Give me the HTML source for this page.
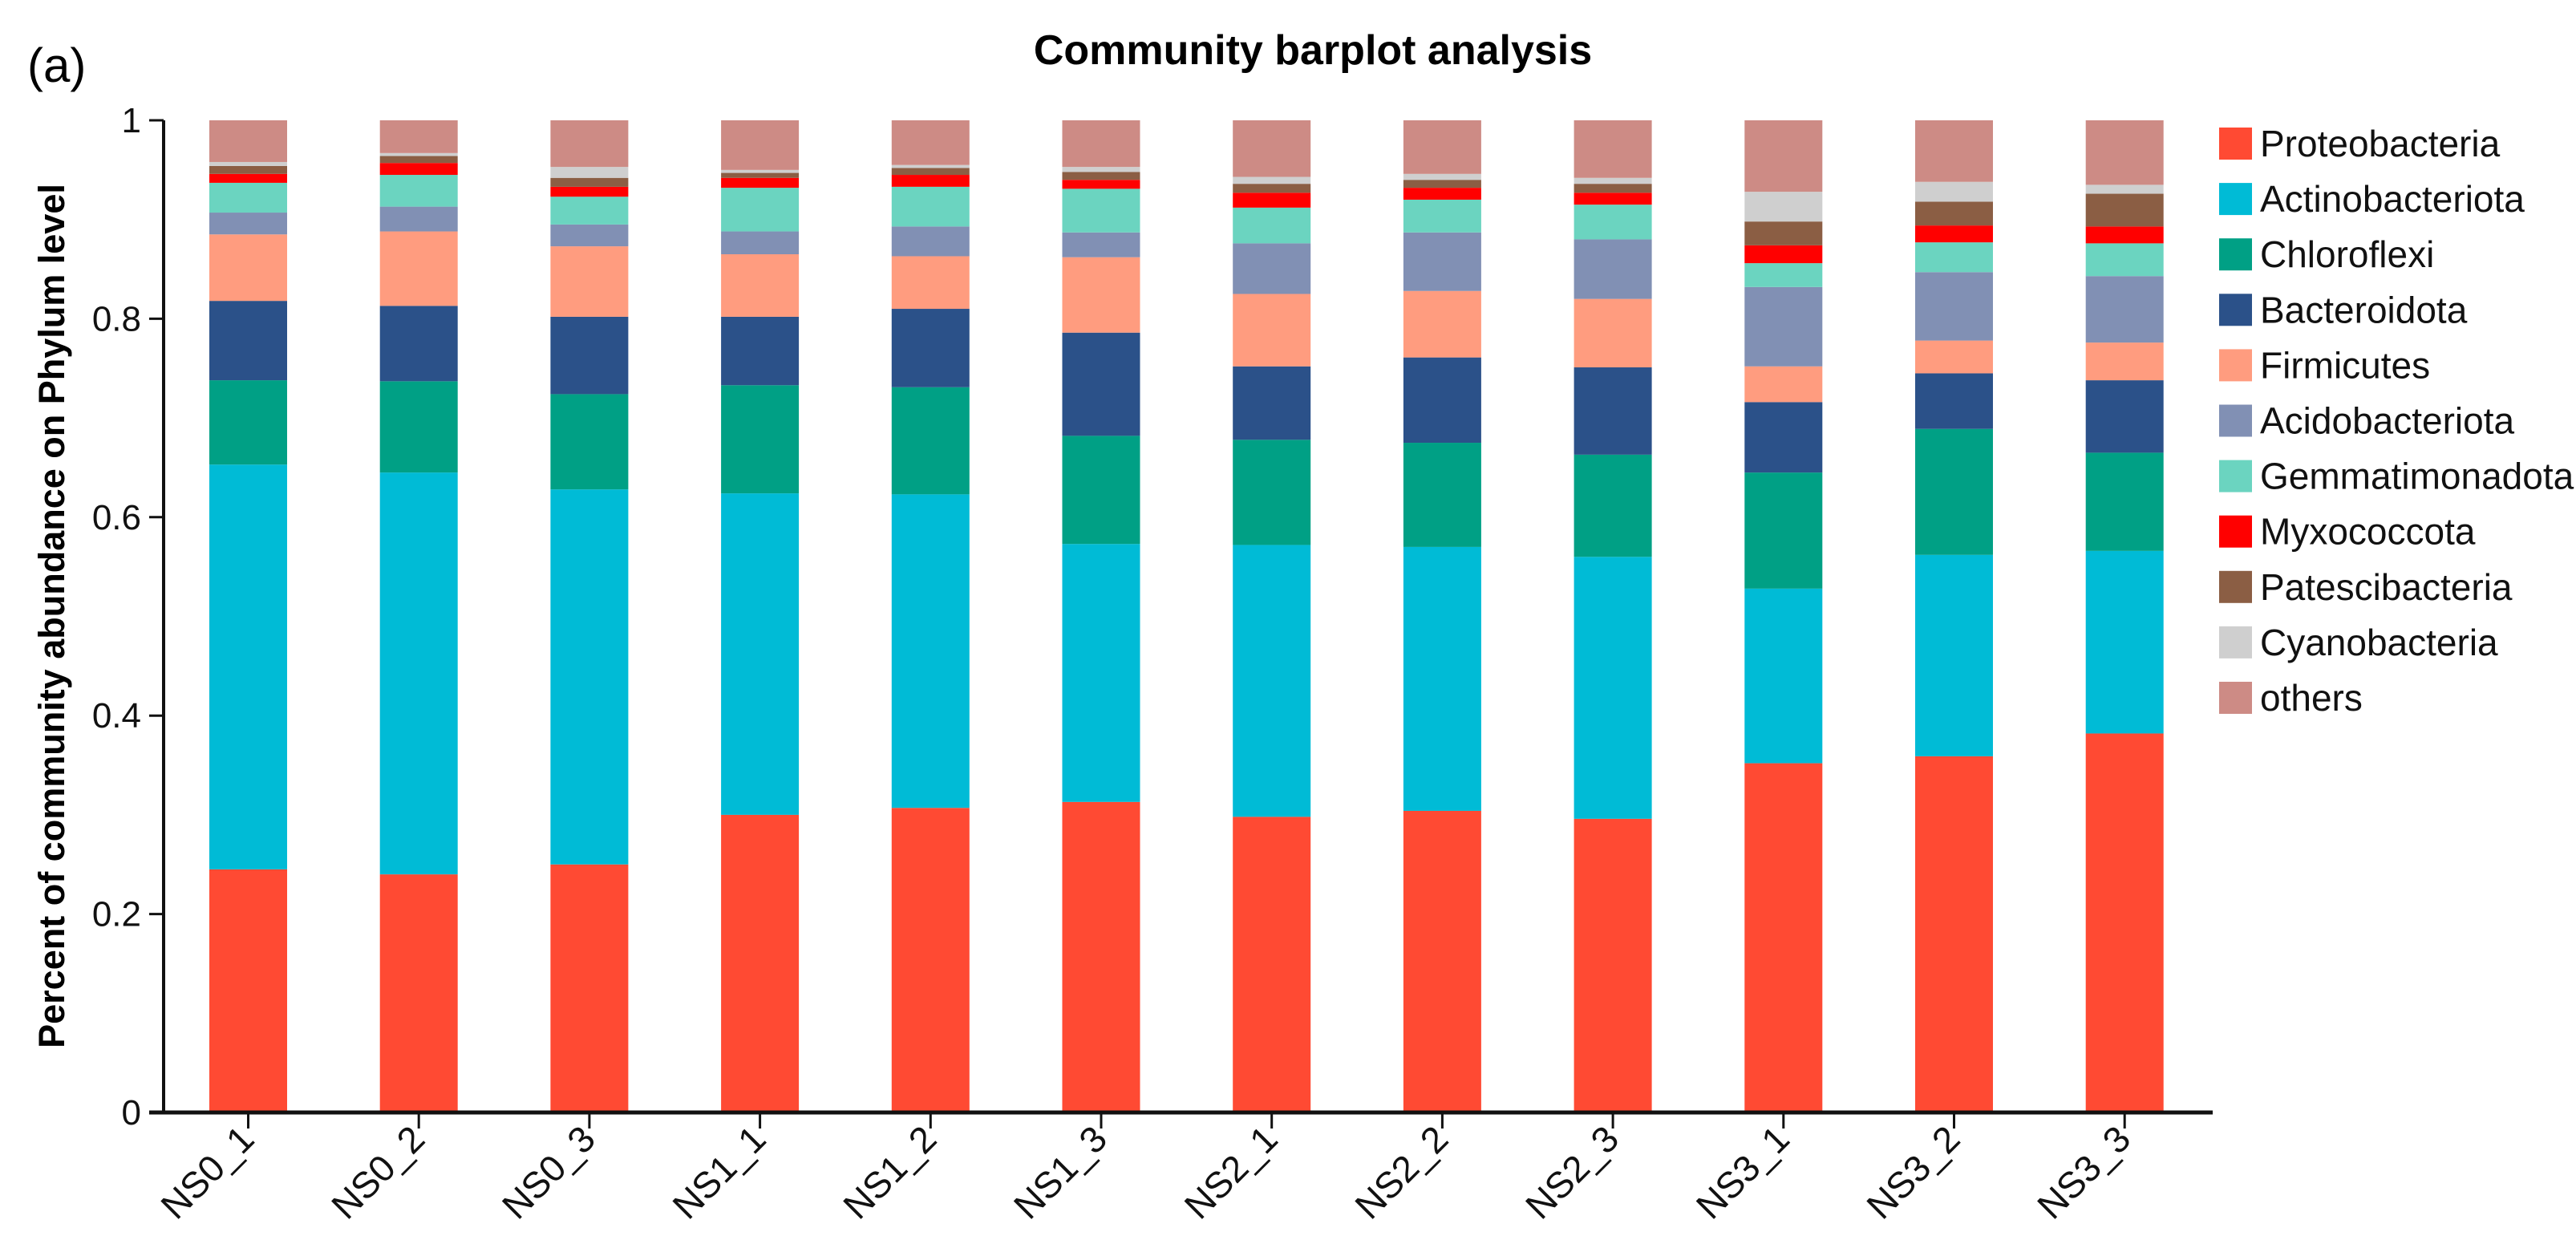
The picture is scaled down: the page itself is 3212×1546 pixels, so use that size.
<!DOCTYPE html>
<html><head><meta charset="utf-8"><style>
html,body{margin:0;padding:0;background:#fff;}
svg{display:block;font-family:"Liberation Sans",Arial,sans-serif;}
</style></head><body>
<svg id="chart" width="3212" height="1546" viewBox="0 0 3212 1546" xmlns="http://www.w3.org/2000/svg">
<text x="1637" y="80" font-size="52" font-weight="bold" text-anchor="middle">Community barplot analysis</text>
<text x="34" y="102" font-size="60">(a)</text>
<text transform="translate(80,768) rotate(-90)" font-size="45" font-weight="bold" text-anchor="middle">Percent of community abundance on Phylum level</text>
<g id="bars"></g>
<g id="axes"></g>
<g id="legend"></g>
</svg>
<script>
const categories = ["NS0_1","NS0_2","NS0_3","NS1_1","NS1_2","NS1_3","NS2_1","NS2_2","NS2_3","NS3_1","NS3_2","NS3_3"];
const seriesNames = ["Proteobacteria","Actinobacteriota","Chloroflexi","Bacteroidota","Firmicutes","Acidobacteriota","Gemmatimonadota","Myxococcota","Patescibacteria","Cyanobacteria","others"];
const seriesColors = ["#FF4A33","#00BBD6","#00A085","#2B5189","#FF9C7F","#8190B4","#6BD4C0","#FF0000","#8B5E44","#CFCFCF","#CD8B85"];
const proteobacteria   = [0.245,0.240,0.250,0.300,0.307,0.313,0.298,0.304,0.296,0.352,0.359,0.382];
const actinobacteriota = [0.408,0.405,0.378,0.324,0.316,0.260,0.274,0.266,0.264,0.176,0.203,0.184];
const chloroflexi      = [0.085,0.092,0.096,0.109,0.108,0.109,0.106,0.105,0.103,0.117,0.127,0.099];
const bacteroidota     = [0.080,0.076,0.078,0.069,0.079,0.104,0.074,0.086,0.088,0.071,0.056,0.073];
const firmicutes       = [0.067,0.075,0.071,0.063,0.053,0.076,0.073,0.067,0.069,0.036,0.033,0.038];
const acidobacteriota  = [0.022,0.025,0.022,0.023,0.030,0.025,0.051,0.059,0.060,0.080,0.069,0.067];
const gemmatimonadota  = [0.030,0.032,0.028,0.044,0.040,0.044,0.036,0.033,0.035,0.024,0.030,0.033];
const myxococcota      = [0.009,0.012,0.010,0.010,0.012,0.009,0.015,0.012,0.012,0.018,0.017,0.017];
const patescibacteria  = [0.008,0.007,0.009,0.005,0.007,0.008,0.009,0.008,0.009,0.024,0.024,0.033];
const cyanobacteria    = [0.004,0.003,0.011,0.003,0.003,0.005,0.007,0.006,0.006,0.030,0.020,0.009];
const others           = [0.042,0.033,0.047,0.050,0.045,0.047,0.057,0.054,0.058,0.072,0.062,0.065];
const yTickValues = [0,0.2,0.4,0.6,0.8,1];
const yTickLabels = ["0","0.2","0.4","0.6","0.8","1"];

const seriesValues = [proteobacteria,actinobacteriota,chloroflexi,bacteroidota,firmicutes,acidobacteriota,gemmatimonadota,myxococcota,patescibacteria,cyanobacteria,others];
const NS = "http://www.w3.org/2000/svg";
const X0 = 309.5, STEP = 212.7, BW = 97;
const Y0 = 1387, YSCALE = 1237;
function xScale(i){ return X0 + i*STEP; }
function yScale(v){ return Y0 - v*YSCALE; }
function mk(tag, attrs, parent){ const e=document.createElementNS(NS,tag); for(const k in attrs) e.setAttribute(k,attrs[k]); parent.appendChild(e); return e; }

const gb = document.getElementById('bars');
categories.forEach((c,i)=>{
  let cum = 0;
  seriesValues.forEach((arr,s)=>{
    const v = arr[i];
    const r = mk('rect',{x:xScale(i)-BW/2, y:yScale(cum+v), width:BW, height:yScale(cum)-yScale(cum+v), fill:seriesColors[s]}, gb);
    
    
    cum += v;
  });
});

const ga = document.getElementById('axes');
const yl = mk('line',{x1:204,y1:yScale(1),x2:204,y2:Y0,stroke:'#111','stroke-width':4},ga);


const xl = mk('line',{x1:186,y1:Y0,x2:2759,y2:Y0,stroke:'#111','stroke-width':5},ga);


yTickValues.forEach((v,k)=>{
  const t = mk('line',{x1:186,y1:yScale(v),x2:204,y2:yScale(v),stroke:'#111','stroke-width':3},ga);
  
  
  const tx = mk('text',{x:176,y:yScale(v)+15,'font-size':44,'text-anchor':'end',fill:'#111'},ga);
  tx.textContent = yTickLabels[k];
  
  
});
categories.forEach((c,i)=>{
  const t = mk('line',{x1:xScale(i),y1:Y0,x2:xScale(i),y2:Y0+20,stroke:'#111','stroke-width':3},ga);
  
  
  const tx = mk('text',{transform:`translate(${xScale(i)+10},${Y0+36}) rotate(-45)`,'font-size':46,'text-anchor':'end',fill:'#111'},ga);
  tx.textContent = c;
  
  
});

const gl = document.getElementById('legend');
seriesNames.forEach((n,s)=>{
  const cy = 179 + s*69.1;
  const g = mk('g',{},gl);
  
  
  const r = mk('rect',{x:2767,y:cy-20,width:41,height:40,fill:seriesColors[s]},g);
  
  
  const tx = mk('text',{x:2818,y:cy+16,'font-size':46,fill:'#111'},g);
  tx.textContent = n;
  
  
});
</script>
</body></html>
